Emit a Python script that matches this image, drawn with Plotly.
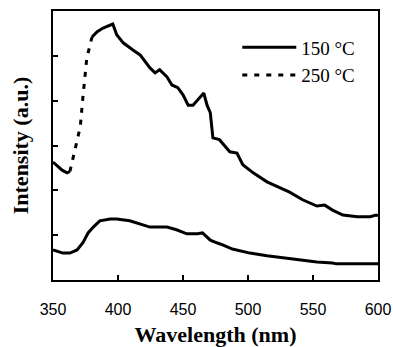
import numpy as np
import plotly.graph_objects as go

# 150 °C series
wl_150 = [350, 357.7, 363, 368.5, 373, 377, 381, 386, 394, 399, 409, 417, 424.6, 437.7,
          445, 453, 461, 465, 471, 476, 481, 488, 501.5, 514.6, 527, 540, 553, 565, 568, 600]
int_150 = [0.67, 0.60, 0.60, 0.67, 0.83, 1.05, 1.18, 1.32, 1.36, 1.36, 1.32, 1.25, 1.18, 1.18,
           1.12, 1.03, 1.03, 1.05, 0.89, 0.83, 0.78, 0.69, 0.60, 0.54, 0.49, 0.45, 0.40, 0.38, 0.36, 0.36]

# 250 °C series
wl_250 = [350, 353, 357, 360.8, 363, 367, 371, 373, 376, 380, 384, 388.5, 394, 396, 399,
          404, 411.5, 417, 424.6, 428.5, 432, 437.7, 441.5, 446, 450, 454, 457.7, 463, 466,
          468.5, 471, 473, 478, 486, 491.5, 496, 504, 514.6, 524.6, 532, 542, 553, 559, 565,
          573, 584, 594, 598.5, 600]
int_250 = [2.63, 2.55, 2.45, 2.39, 2.42, 2.90, 3.42, 4.08, 4.95, 5.42, 5.54, 5.62, 5.69, 5.71, 5.47,
           5.29, 5.13, 5.02, 4.73, 4.62, 4.69, 4.53, 4.35, 4.29, 4.13, 3.90, 3.90, 4.06, 4.17,
           3.90, 3.73, 3.17, 3.13, 2.86, 2.83, 2.57, 2.39, 2.19, 2.05, 1.96, 1.79, 1.65, 1.67, 1.56,
           1.45, 1.41, 1.41, 1.45, 1.43]

x_ticks = [350, 400, 450, 500, 550, 600]

wl250 = np.array(wl_250)
i250 = np.array(int_250)
steep = (wl250 >= 363) & (wl250 <= 380)
left = wl250 <= 363
right = wl250 >= 380

fig = go.Figure()
fig.add_trace(go.Scatter(x=wl_150, y=int_150, mode="lines", name="150 °C",
                         line=dict(color="black", width=3)))
fig.add_trace(go.Scatter(x=wl250[steep], y=i250[steep], mode="lines", name="250 °C",
                         line=dict(color="black", width=3, dash="5px,7px")))
fig.add_trace(go.Scatter(x=wl250[left], y=i250[left], mode="lines", showlegend=False,
                         line=dict(color="black", width=3)))
fig.add_trace(go.Scatter(x=wl250[right], y=i250[right], mode="lines", showlegend=False,
                         line=dict(color="black", width=3)))

fig.update_layout(
    width=393, height=347,
    margin=dict(l=53, r=15, t=11, b=67, autoexpand=False),
    paper_bgcolor="white", plot_bgcolor="white",
    showlegend=True,
    legend=dict(x=0.567, y=0.935, xanchor="left", yanchor="top",
                bgcolor="rgba(0,0,0,0)", itemwidth=54,
                font=dict(family="Liberation Serif", size=19, color="black"),
                tracegroupgap=4),
)
fig.update_xaxes(range=[350, 600], tickvals=x_ticks, ticktext=[str(v) for v in x_ticks],
                 ticks="inside", ticklen=5, tickcolor="black", tickwidth=1.5,
                 ticklabelstandoff=14, automargin=False,
                 showline=True, linecolor="black", linewidth=1.5, mirror=True,
                 showgrid=False, zeroline=False,
                 tickfont=dict(family="Liberation Sans", size=16, color="black"),
                 title=dict(text="<b>Wavelength (nm)</b>", standoff=13,
                            font=dict(family="Liberation Serif", size=22, color="black")))
fig.update_yaxes(range=[0, 6], tickvals=[1, 2, 3, 4, 5], showticklabels=False,
                 ticks="inside", ticklen=5, tickcolor="black", tickwidth=1.5,
                 automargin=False,
                 showline=True, linecolor="black", linewidth=1.5, mirror=True,
                 showgrid=False, zeroline=False,
                 title=dict(text="<b>Intensity (a.u.)</b>", standoff=17,
                            font=dict(family="Liberation Serif", size=22, color="black")))

fig.write_html("out.html", config={"displayModeBar": False},
               post_script="document.body.style.margin='0px';")
